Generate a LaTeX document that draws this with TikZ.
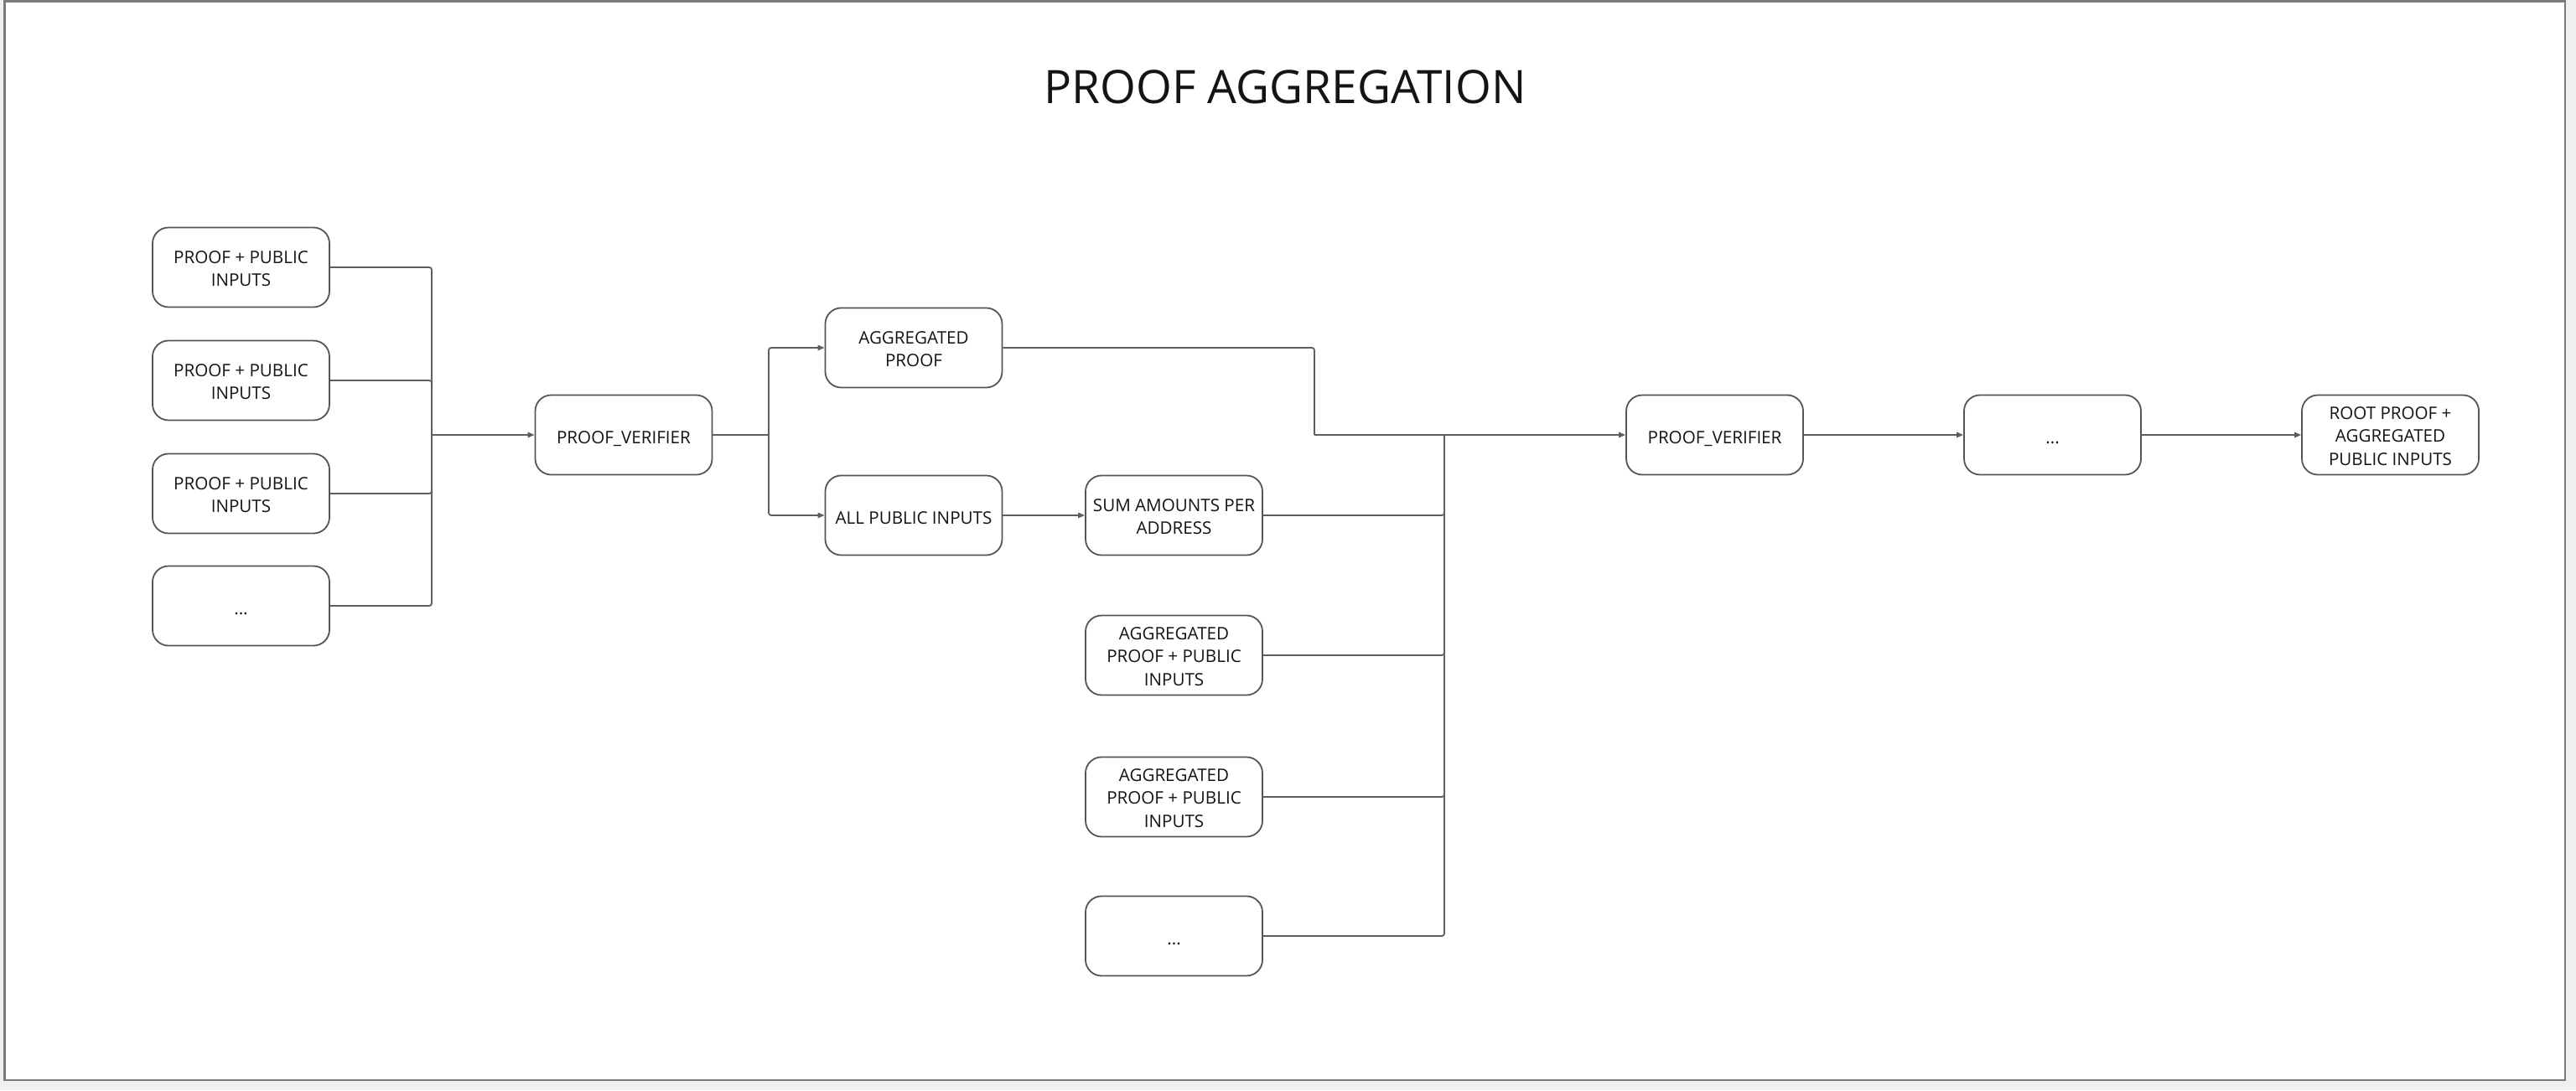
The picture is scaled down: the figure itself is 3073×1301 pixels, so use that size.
\documentclass[tikz,border=0pt]{standalone}
\usepackage{fontspec}
\setmainfont{Open Sans}
\usetikzlibrary{arrows.meta}
\definecolor{pagebg}{HTML}{F0F0F0}
\definecolor{frameline}{HTML}{7A7A7A}
\definecolor{boxline}{HTML}{555555}
\definecolor{conn}{HTML}{5E5E5E}
\definecolor{txt}{HTML}{141414}
\newcommand{\firststrut}{\rule{0pt}{11.5pt}}
\tikzset{
  box/.style={draw=boxline, line width=0.9pt, rounded corners=9.5pt, fill=white,
    minimum width=105.5pt, minimum height=47.5pt, inner sep=2pt,
    align=center, text=txt, font=\fontsize{10.3}{13.7}\selectfont,
    execute at begin node={\rule{0pt}{12.7pt}},
    execute at end node={\rule[-2.6pt]{0pt}{2.6pt}}},
  wire/.style={draw=conn, line width=0.9pt, rounded corners=1.5pt},
  arr/.style={wire, -{Triangle[length=4pt,width=3.2pt]}}
}
\begin{document}
\begin{tikzpicture}[x=0.5pt,y=-0.5pt]
\useasboundingbox (0,0) rectangle (3073,1301);
\fill[pagebg] (0,0) rectangle (3073,1301);
\draw[frameline, line width=1.2pt, fill=white] (5.5,1.5) rectangle (3060,1289);

\node[anchor=base, text=txt, font=\fontsize{27.5}{33}\selectfont] (title) at (1533,123) {PROOF AGGREGATION};

% left column
\node[box] (p1) at (287.5,319) {\firststrut PROOF + PUBLIC\\INPUTS};
\node[box] (p2) at (287.5,454) {\firststrut PROOF + PUBLIC\\INPUTS};
\node[box] (p3) at (287.5,589) {\firststrut PROOF + PUBLIC\\INPUTS};
\node[box] (p4) at (287.5,723) {...};

\node[box] (pv1) at (744,519) {PROOF\_VERIFIER};
\node[box] (agg) at (1090,415) {\firststrut AGGREGATED\\PROOF};
\node[box] (api) at (1090,615) {ALL PUBLIC INPUTS};

\node[box] (sum) at (1400.5,615) {\firststrut SUM AMOUNTS PER\\ADDRESS};
\node[box] (ag1) at (1400.5,782) {\firststrut AGGREGATED\\PROOF + PUBLIC\\INPUTS};
\node[box] (ag2) at (1400.5,951) {\firststrut AGGREGATED\\PROOF + PUBLIC\\INPUTS};
\node[box] (ag3) at (1400.5,1117) {...};

\node[box] (pv2) at (2045.5,519) {PROOF\_VERIFIER};
\node[box] (dd) at (2448.5,519) {...};
\node[box] (root) at (2851.5,519) {\firststrut ROOT PROOF +\\AGGREGATED\\PUBLIC INPUTS};

% junctions
\coordinate (j1) at (515,519);
\coordinate (j2) at (917,519);
\coordinate (j3) at (1568,519);
\coordinate (j4) at (1723,519);

\draw[wire] (p1.east) -| (j1);
\draw[wire] (p2.east) -| (j1);
\draw[wire] (p3.east) -| (j1);
\draw[wire] (p4.east) -| (j1);
\draw[arr] (j1) -- (pv1.west);

\draw[wire] (pv1.east) -- (j2);
\draw[arr] (j2) |- (agg.west);
\draw[arr] (j2) |- (api.west);

\draw[arr] (api) -- (sum);

\draw[wire] (agg.east) -| (j3);
\draw[arr] (j3) -- (pv2.west);

\draw[wire] (sum.east) -| (j4);
\draw[wire] (ag1.east) -| (j4);
\draw[wire] (ag2.east) -| (j4);
\draw[wire] (ag3.east) -| (j4);

\draw[arr] (pv2) -- (dd);
\draw[arr] (dd) -- (root);
\end{tikzpicture}
\end{document}
